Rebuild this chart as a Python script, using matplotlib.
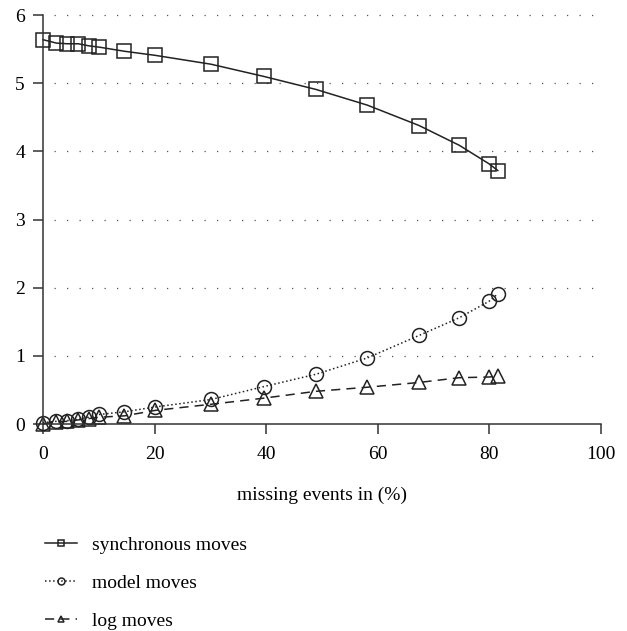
import matplotlib.pyplot as plt

plt.rcParams['font.family'] = ['Liberation Serif', 'DejaVu Serif']

# missing events (%)
missing = [0, 2.4, 4.3, 6.3, 8.2, 10.1, 14.6, 20.1, 30.1, 39.6, 48.9, 58.1, 67.4, 74.6, 79.9, 81.5]

sync_moves = [5.64, 5.59, 5.58, 5.58, 5.55, 5.53, 5.47, 5.41, 5.28, 5.10, 4.91, 4.68, 4.38, 4.09, 3.82, 3.72]
model_moves = [0.02, 0.04, 0.05, 0.07, 0.10, 0.14, 0.18, 0.25, 0.36, 0.55, 0.73, 0.97, 1.30, 1.56, 1.80, 1.91]
log_moves = [0.0, 0.03, 0.04, 0.06, 0.08, 0.10, 0.12, 0.20, 0.29, 0.38, 0.48, 0.54, 0.61, 0.68, 0.69, 0.70]

fig = plt.figure(figsize=(6.27, 6.31), dpi=100)
ax = fig.add_axes([0.0686, 0.328, 0.89, 0.648])

# dotted horizontal grid
for yv in range(1, 7):
    ax.axhline(yv, xmin=0.02, xmax=1.0, color='#555555', lw=0.9,
               linestyle=(0, (1, 9)), zorder=0)

mk = dict(markerfacecolor='none', markeredgecolor='#222222', markeredgewidth=1.1, color='#222222')
ax.plot(missing, sync_moves, '-', marker='s', markersize=10, lw=1.1, label='synchronous moves', **mk)
ax.plot(missing, model_moves, ':', marker='o', markersize=10, lw=1.1, label='model moves', **mk)
ax.plot(missing, log_moves, '--', marker='^', markersize=10, lw=1.1, dashes=(6, 4), label='log moves', **mk)

ax.set_xlim(0, 100)
ax.set_ylim(0, 6)
ax.set_xticks(range(0, 101, 20))
ax.set_yticks(range(0, 7))
for s in ['top', 'right']:
    ax.spines[s].set_visible(False)
for s in ['left', 'bottom']:
    ax.spines[s].set_color('#333333')
    ax.spines[s].set_linewidth(1.1)
ax.tick_params(axis='both', labelsize=14, length=7, width=1.1, color='#333333', pad=6)
ax.tick_params(axis='x', pad=9)
ax.set_xlabel('missing events in (%)', fontsize=14, labelpad=17)
for ln in ax.lines:
    ln.set_clip_on(False)

fig.legend(loc='upper left', bbox_to_anchor=(0.06, 0.163), frameon=False, fontsize=14,
           handlelength=1.6, markerscale=0.5, labelspacing=1.05, handletextpad=0.8,
           borderaxespad=0)

fig.savefig('out.png', dpi=100)
